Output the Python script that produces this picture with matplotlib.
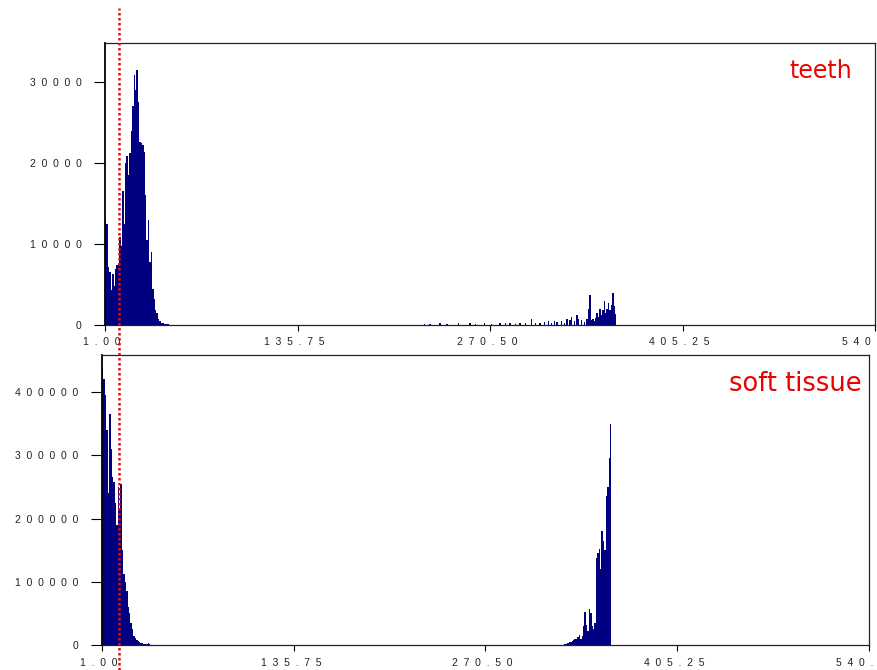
import matplotlib
matplotlib.use("Agg")
import matplotlib.pyplot as plt
from matplotlib.lines import Line2D

# histogram counts, one bin per grey level
teeth_lo_bins=list(range(1,61))
teeth_lo_counts=[12800,12500,7200,6500,4300,6300,4800,6900,7400,7600,
                 10800,9800,16500,12500,20000,20800,18500,21200,24000,27000,
                 30800,29000,31500,27500,22600,22400,22200,21300,16000,10500,
                 13000,7800,9000,4500,3200,1800,1500,700,450,300,
                 220,150,120,100,80,60,50,40,40,30,
                 30,25,25,20,20,20,15,15,10,10]
teeth_hi_bins=[224,228,235,240,248,256,260,266,271,277,281,284,288,291,295,299,302,305,308,311,
               313,315,317,320,322,324,326,327,329,331,332,334,336,338,339,340,341,342,343,344,
               345,346,347,348,349,350,351,352,353,354,355,356,357,358]
teeth_hi_counts=[150,180,200,150,200,250,150,250,150,300,200,250,150,300,200,700,200,300,350,550,
                 300,450,350,450,300,750,600,1000,500,1200,700,600,400,700,2000,3700,600,800,500,900,
                 1500,1000,2000,1200,1800,2900,1500,2000,2700,1800,2500,4000,2300,1300]

soft_lo_bins=list(range(1,36))
soft_lo_counts=[440000,420000,395000,340000,240000,365000,310000,265000,258000,225000,
                190000,250000,215000,255000,150000,112000,100000,85000,60000,50000,
                35000,25000,15000,11000,8000,6000,4000,3000,2500,2000,
                1500,1000,3000,800,300]
soft_hi_bins=list(range(326,359))
soft_hi_counts=[1500,2000,3000,4000,5000,6000,8000,10000,9000,12000,
                16000,10000,14000,30000,52000,32000,22000,57000,50000,30000,
                25000,35000,138000,145000,152000,120000,180000,165000,150000,235000,
                250000,295000,350000]

x_ticks=[1.00,135.75,270.50,405.25,540.00]
teeth_yticks=[0,10000,20000,30000]
soft_yticks=[0,100000,200000,300000,400000]

spaced=lambda s:"  ".join(s)
bar_c="#000080"
txt_c="#222222"

fig=plt.figure(figsize=(8.77,6.70),dpi=100)
ax1=fig.add_axes([105/877,1-325/670,770/877,282/670])
ax2=fig.add_axes([102/877,1-645/670,767/877,290/670])

def draw(ax,groups,yticks,ymax):
    for b,c in groups: ax.bar(b,c,width=1.0,align="edge",color=bar_c,linewidth=0)
    ax.set_xlim(1,540)
    ax.set_ylim(0,ymax)
    ax.set_xticks(x_ticks)
    ax.set_xticklabels([spaced("%.2f"%v)+"  " for v in x_ticks],family="Liberation Sans",fontsize=7.5,color=txt_c)
    ax.set_yticks(yticks)
    ax.set_yticklabels([spaced(str(v)) for v in yticks],family="Liberation Sans",fontsize=7.5,color=txt_c)
    ax.tick_params(axis="y",length=8,width=0.8,pad=9)
    ax.tick_params(axis="x",length=4,width=0.8,pad=5)
    for s in ax.spines.values():
        s.set_linewidth(0.9)
        s.set_color(txt_c)
    ax.spines["left"].set_color("black")
    ax.spines["left"].set_linewidth(1.3)

draw(ax1,[(teeth_lo_bins,teeth_lo_counts),(teeth_hi_bins,teeth_hi_counts)],teeth_yticks,34800)
draw(ax2,[(soft_lo_bins,soft_lo_counts),(soft_hi_bins,soft_hi_counts)],soft_yticks,458500)

fig.text(852/877,1-78/670,"teeth",color="#ee0000",fontsize=17,ha="right",va="baseline")
fig.text(862/877,1-391/670,"soft tissue",color="#ee0000",fontsize=18.5,ha="right",va="baseline")

# threshold marker across both panels
fig.add_artist(Line2D([119/877,119/877],[0,1-8/670],transform=fig.transFigure,
                      color="#e01010",linestyle=(0,(1,1)),linewidth=1.8))

fig.savefig("out.png",dpi=100)
